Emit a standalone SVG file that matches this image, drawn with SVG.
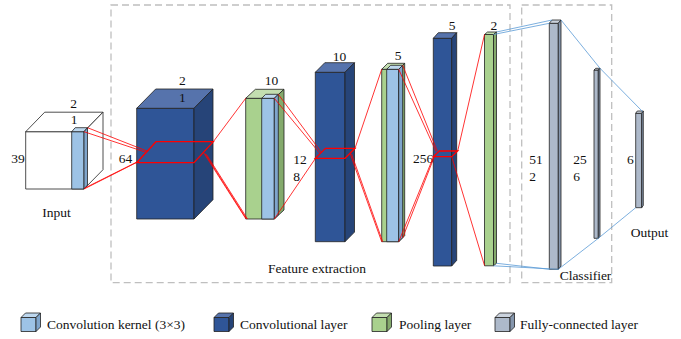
<svg xmlns="http://www.w3.org/2000/svg" width="681" height="339" viewBox="0 0 681 339">
<style>
text{font-family:"Liberation Serif","Times New Roman",serif;font-size:13.5px;fill:#111}
.e{stroke:#222;stroke-width:0.8;stroke-linejoin:round}
.wf{fill:#fff}
.cf{fill:#2F5597}.ct{fill:#5673AC}.cs{fill:#264478}
.gf{fill:#A9D18E}.gt{fill:#C3DEB0}.gs{fill:#84AA6C}
.kf{fill:#9DC3E6}.kt{fill:#BDD7EE}.ks{fill:#7FA5CC}
.ff{fill:#ADB9CA}.ft{fill:#CBD3DE}.fs{fill:#8596AD}
.box{fill:none;stroke:#BFBFBF;stroke-width:1.3;stroke-dasharray:7 4}
.r{fill:none;stroke:#FF0000;stroke-width:0.8}
.rk{fill:none;stroke:#FF0000;stroke-width:1.3;stroke-linejoin:miter}
.b{fill:none;stroke:#5B9BD5;stroke-width:0.8}
.c{text-anchor:middle}
</style>
<g id="frames">
<rect class="box" x="111" y="5" width="399" height="277.7"/>
<rect class="box" x="521.7" y="5" width="90" height="277.7"/>
</g>
<g id="input">
<rect class="e wf" x="25.7" y="131.7" width="58.3" height="57.3"/>
<polygon class="e wf" points="25.7,131.7 44.7,112.2 103,112.2 84,131.7"/>
<polygon class="e wf" points="84,131.7 103,112.2 103,169.7 84,189"/>
<rect class="e kf" x="71.7" y="131.7" width="12.3" height="57.3"/>
<polygon class="e kt" points="71.7,131.7 75.2,127.7 87.5,127.7 84,131.7"/>
<polygon class="e ks" points="84,131.7 87.5,127.7 87.5,185 84,189"/>
<text class="c" x="73.5" y="108">2</text>
<text class="c" x="74" y="124">1</text>
<text class="c" x="18" y="163">39</text>
<text class="c" x="56.5" y="216.5">Input</text>
</g>
<g id="conv1">
<rect class="e cf" x="136.7" y="108.3" width="57.3" height="110.7"/>
<polygon class="e ct" points="136.7,108.3 155.7,89 213,89 194,108.3"/>
<polygon class="e cs" points="194,108.3 213,89 213,199.7 194,219"/>
<text class="c" x="182.3" y="85">2</text>
<text class="c" x="182.3" y="101.7">1</text>
<text class="c" x="125.5" y="163.3">64</text>
</g>
<g id="pool1">
<rect class="e gf" x="245.7" y="98.3" width="28.6" height="120.7"/>
<polygon class="e gt" points="245.7,98.3 255.4,89.3 284,89.3 274.3,98.3"/>
<polygon class="e gs" points="274.3,98.3 284,89.3 284,210 274.3,219"/>
<rect class="e kf" x="261.7" y="98.3" width="12.6" height="120.7"/>
<polygon class="e kt" points="261.7,98.3 265.7,94.3 278.3,94.3 274.3,98.3"/>
<polygon class="e ks" points="274.3,98.3 278.3,94.3 278.3,215 274.3,219"/>
<text class="c" x="271.5" y="85">10</text>
<text x="293.3" y="164">12</text>
<text x="293.3" y="180.5">8</text>
</g>
<g id="conv2">
<rect class="e cf" x="315.3" y="72.3" width="29.7" height="169.4"/>
<polygon class="e ct" points="315.3,72.3 324.8,62.7 354.5,62.7 345,72.3"/>
<polygon class="e cs" points="345,72.3 354.5,62.7 354.5,232.1 345,241.7"/>
<text class="c" x="339.5" y="60.7">10</text>
</g>
<g id="pool2">
<rect class="e gf" x="381.7" y="69.3" width="17" height="172.4"/>
<polygon class="e gt" points="381.7,69.3 387.7,63.3 404.7,63.3 398.7,69.3"/>
<polygon class="e gs" points="398.7,69.3 404.7,63.3 404.7,235.7 398.7,241.7"/>
<rect class="e kf" x="386.7" y="69.3" width="12" height="172.4"/>
<polygon class="e kt" points="386.7,69.3 390.7,65.3 402.7,65.3 398.7,69.3"/>
<polygon class="e ks" points="398.7,69.3 402.7,65.3 402.7,237.7 398.7,241.7"/>
<text class="c" x="398" y="60">5</text>
<text x="433.3" y="162.7" text-anchor="end">256</text>
</g>
<g id="conv3">
<rect class="e cf" x="433.3" y="38.3" width="18.4" height="227.7"/>
<polygon class="e ct" points="433.3,38.3 438.3,32.7 456.7,32.7 451.7,38.3"/>
<polygon class="e cs" points="451.7,38.3 456.7,32.7 456.7,260.4 451.7,266"/>
<text class="c" x="452" y="30">5</text>
</g>
<g id="pool3">
<rect class="e gf" x="484.5" y="34.5" width="9" height="231.3"/>
<polygon class="e gt" points="484.5,34.5 487.5,32 496.5,32 493.5,34.5"/>
<polygon class="e gs" points="493.5,34.5 496.5,32 496.5,263.3 493.5,265.8"/>
<text class="c" x="493.8" y="30">2</text>
<text class="c" x="317" y="273.3">Feature extraction</text>
</g>
<g id="fc1">
<rect class="e ff" x="549.3" y="23.3" width="9" height="246"/>
<polygon class="e ft" points="549.3,23.3 552,20 561,20 558.3,23.3"/>
<polygon class="e fs" points="558.3,23.3 561,20 561,266 558.3,269.3"/>
<text x="529.3" y="164">51</text>
<text x="529.3" y="180.5">2</text>
</g>
<g id="fc2">
<rect class="e ff" x="594" y="70" width="4.3" height="168.3"/>
<polygon class="e ft" points="594,70 595.7,68.3 600,68.3 598.3,70"/>
<polygon class="e fs" points="598.3,70 600,68.3 600,236.6 598.3,238.3"/>
<text x="573.3" y="164">25</text>
<text x="573.3" y="180.5">6</text>
<text class="c" x="585.5" y="280">Classifier</text>
</g>
<g id="fc3">
<rect class="e ff" x="635.7" y="113.3" width="6" height="94.4"/>
<polygon class="e ft" points="635.7,113.3 637.3,111 643.3,111 641.7,113.3"/>
<polygon class="e fs" points="641.7,113.3 643.3,111 643.3,205.4 641.7,207.7"/>
<text class="c" x="630.3" y="164">6</text>
<text class="c" x="649.5" y="237">Output</text>
</g>
<g id="connectors">
<polygon class="rk" points="136.7,162.7 194,162.7 213.3,141.7 156,141.7"/>
<polygon class="rk" points="315.3,158.3 345,158.3 355,148.3 325.5,148.3"/>
<polygon class="rk" points="433.3,156.7 451.7,156.7 457.7,151 439.3,151"/>
<line class="r" x1="84" y1="131.7" x2="146" y2="152.3"/>
<line class="r" x1="87.5" y1="127.7" x2="147.3" y2="151.2"/>
<line class="r" x1="84" y1="189" x2="137.5" y2="162"/>
<line class="r" x1="85" y1="188" x2="138.5" y2="161.2"/>
<line class="r" x1="213.3" y1="141.7" x2="245.7" y2="98.3"/>
<line class="r" x1="203.5" y1="152.5" x2="245.7" y2="218.5"/>
<line class="r" x1="205" y1="153.5" x2="246.5" y2="219"/>
<line class="r" x1="206.5" y1="154.5" x2="247.5" y2="219"/>
<line class="r" x1="274.3" y1="98.3" x2="320" y2="153.5"/>
<line class="r" x1="278.3" y1="94.3" x2="321.5" y2="152.5"/>
<line class="r" x1="274.3" y1="219" x2="315.5" y2="158.3"/>
<line class="r" x1="355" y1="148.3" x2="381.7" y2="69.3"/>
<line class="r" x1="350" y1="153.3" x2="381.7" y2="241.7"/>
<line class="r" x1="351.5" y1="153.8" x2="382.7" y2="241.7"/>
<line class="r" x1="398.7" y1="69.3" x2="436" y2="151.5"/>
<line class="r" x1="402.7" y1="65.3" x2="437.2" y2="150.8"/>
<line class="r" x1="398.7" y1="241.7" x2="433.5" y2="156.7"/>
<line class="r" x1="402.7" y1="237.7" x2="434.5" y2="156.2"/>
<line class="r" x1="457.7" y1="151" x2="484.5" y2="34.5"/>
<line class="r" x1="451.5" y1="156" x2="484.5" y2="265.5"/>
<line class="b" x1="493.5" y1="34.5" x2="549.3" y2="23.3"/>
<line class="b" x1="496.5" y1="32" x2="552" y2="20"/>
<line class="b" x1="493.5" y1="265.8" x2="558.3" y2="269.3"/>
<line class="b" x1="496.5" y1="263.3" x2="549.3" y2="269.3"/>
<polyline class="b" points="561,20 600,68.3 642.5,111.5"/>
<polyline class="b" points="558.3,269.3 598.3,238.3 635.7,207.7"/>
</g>
<g id="legend">
<g id="leg-kernel">
<rect class="e kf" x="21" y="317.5" width="15" height="14"/>
<polygon class="e kt" points="21,317.5 25.5,313 40.5,313 36,317.5"/>
<polygon class="e ks" points="36,317.5 40.5,313 40.5,327 36,331.5"/>
<text x="47" y="328.5">Convolution kernel (3×3)</text>
</g>
<g id="leg-conv">
<rect class="e cf" x="214" y="317.5" width="15" height="14"/>
<polygon class="e ct" points="214,317.5 218.5,313 233.5,313 229,317.5"/>
<polygon class="e cs" points="229,317.5 233.5,313 233.5,327 229,331.5"/>
<text x="240" y="328.5">Convolutional layer</text>
</g>
<g id="leg-pool">
<rect class="e gf" x="372" y="317.5" width="15" height="14"/>
<polygon class="e gt" points="372,317.5 376.5,313 391.5,313 387,317.5"/>
<polygon class="e gs" points="387,317.5 391.5,313 391.5,327 387,331.5"/>
<text x="399" y="328.5">Pooling layer</text>
</g>
<g id="leg-fc">
<rect class="e ff" x="495" y="317.5" width="15" height="14"/>
<polygon class="e ft" points="495,317.5 499.5,313 514.5,313 510,317.5"/>
<polygon class="e fs" points="510,317.5 514.5,313 514.5,327 510,331.5"/>
<text x="520" y="328.5">Fully-connected layer</text>
</g>
</g>
</svg>
